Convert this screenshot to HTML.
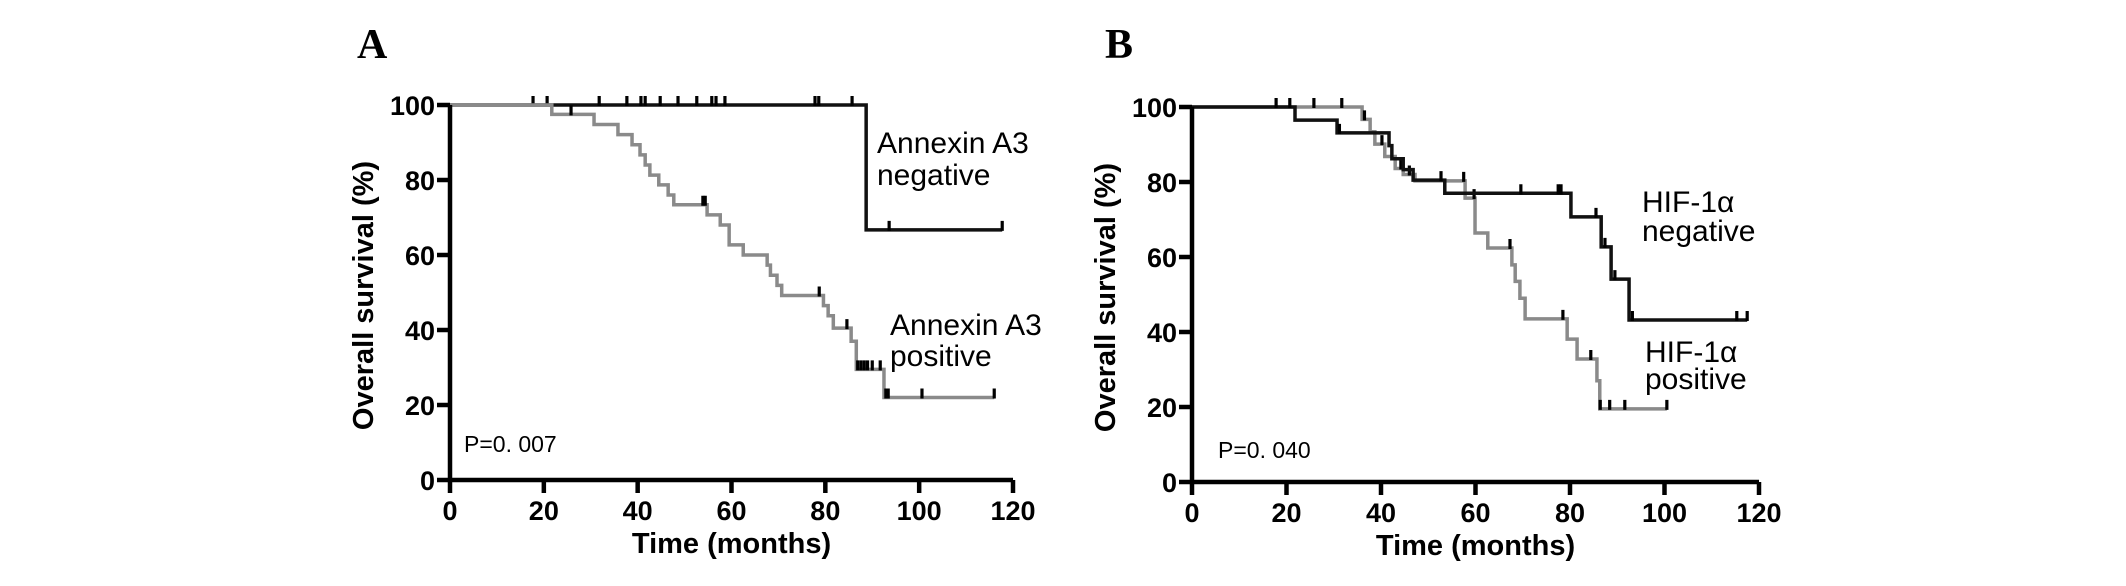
<!DOCTYPE html>
<html><head><meta charset="utf-8"><style>
html,body{margin:0;padding:0;background:#fff;}
svg{display:block;}
text{font-family:"Liberation Sans",Arial,sans-serif;}
.tick{font-weight:bold;font-size:27px;}
.title{font-weight:bold;font-size:29px;}
.ann{font-size:30px;}
.pv{font-size:23px;}
.panel{font-family:"Liberation Serif",serif;font-weight:bold;font-size:42px;}
</style></head><body>
<svg id="fig" width="2126" height="586" viewBox="0 0 2126 586" xmlns="http://www.w3.org/2000/svg">
<rect width="2126" height="586" fill="#fff"/>
</svg>
<script>
// Panel A data
const xTicks = [0,20,40,60,80,100,120];
const yTicks = [0,20,40,60,80,100];
const aNegDropTimes = [88.7];
const aNegDropLevels = [66.7];
const aNegEnd = 117.7;
const aNegCensor = [17.7,20.7,31.8,37.7,40.7,41.6,44.8,48.6,52.6,55.8,56.7,58.6,77.8,78.6,85.7,93.6,117.7];
const aPosDropTimes = [21.7,30.7,35.8,38.8,40.5,41.6,42.6,44.5,46.5,47.7,54.8,57.6,59.5,62.5,67.6,68.3,69.7,70.7,79.6,80.6,81.7,85.5,86.6,92.5];
const aPosDropLevels = [97.5,94.8,92.1,89.4,86.7,84.0,81.3,78.7,76.0,73.4,70.7,68.0,62.7,60.0,57.3,54.6,51.9,49.2,46.5,43.8,40.5,37.0,29.5,22.0];
const aPosEnd = 116;
const aPosCensor = [25.8,53.9,54.4,78.7,84.6,86.9,87.6,88.3,89.0,90.0,91.7,92.9,93.4,100.6,116];
// Panel B data
const bNegDropTimes = [21.8,30.7,41.7,42.3,44.7,46.8,53.5,80.2,86.6,88.7,92.5];
const bNegDropLevels = [96.5,93.1,89.7,86.2,83.3,80.5,77.0,70.7,62.7,54.1,43.2];
const bNegEnd = 117.5;
const bNegCensor = [17.8,20.7,31.2,52.7,69.6,77.5,78.1,85.5,87.4,89.5,93.2,115.3,117.5];
const bPosDropTimes = [36.0,37.7,38.7,40.8,43.0,44.7,47.2,57.8,59.9,62.6,67.7,68.4,69.4,70.5,79.4,81.5,85.7,86.3];
const bPosDropLevels = [96.7,93.4,90.1,86.8,83.6,82.0,80.3,75.7,66.4,62.4,57.9,53.5,49.0,43.5,38.1,32.8,27.0,19.5];
const bPosEnd = 100.5;
const bPosCensor = [25.8,31.7,36.5,40.2,44.2,46.0,57.5,59.7,67.3,78.5,84.4,86.4,88.4,91.6,100.5];

const NS='http://www.w3.org/2000/svg';
const svg=document.getElementById('fig');
function mk(tag,attrs,parent){const e=document.createElementNS(NS,tag);for(const k in attrs)e.setAttribute(k,attrs[k]);(parent||svg).appendChild(e);return e;}

function panel(cfg){
  const g=mk('g',{});
  
  
  const X=t=>cfg.x0+(t/120)*(cfg.x1-cfg.x0);
  const Y=s=>cfg.y0-(s/100)*(cfg.y0-cfg.y100);
  const ax=mk('path',{d:`M${X(0)},${Y(100)}V${Y(0)}H${X(120)}`,stroke:'#000','stroke-width':4.5,fill:'none'},g);
  
  
  xTicks.forEach(v=>{
    mk('line',{x1:X(v),x2:X(v),y1:Y(0),y2:Y(0)+13,stroke:'#000','stroke-width':4.5},g);
    const t=mk('text',{x:X(v),y:Y(0)+40,'text-anchor':'middle',class:'tick'},g);t.textContent=v;
    
    
  });
  yTicks.forEach(v=>{
    mk('line',{x1:X(0)-13,x2:X(0),y1:Y(v),y2:Y(v),stroke:'#000','stroke-width':4.5},g);
    const t=mk('text',{x:X(0)-15,y:Y(v)+10,'text-anchor':'end',class:'tick'},g);t.textContent=v;
    
    
  });
  const xt=mk('text',{x:(X(0)+X(120))/2,y:Y(0)+73,'text-anchor':'middle',class:'title'},g);xt.textContent='Time (months)';
  
  
  const cy=(Y(0)+Y(100))/2+3, cx=X(0)-77;
  const yt=mk('text',{x:cx,y:cy,'text-anchor':'middle',class:'title',transform:`rotate(-90 ${cx} ${cy})`,'font-size':'30.5px'},g);yt.textContent='Overall survival (%)';
  
  
  cfg.series.forEach(s=>{
    let d=`M${X(0)},${Y(100)}`;
    s.times.forEach((t,i)=>{d+=`H${X(t)}V${Y(s.levels[i])}`;});
    d+=`H${X(s.end)}`;
    const p=mk('path',{d:d,stroke:s.color,'stroke-width':3.5,fill:'none'},g);
    
    
    s.censor.forEach(c=>{
      let l=100;s.times.forEach((t,i)=>{if(t<=c)l=s.levels[i];});
      const m=mk('line',{x1:X(c),x2:X(c),y1:Y(l)-9,y2:Y(l)+1,stroke:'#000','stroke-width':3.2},g);
      
      
    });
  });
  g.appendChild(ax);
  return g;
}

panel({name:'panel-a-chart',x0:450,x1:1013,y0:480,y100:105,series:[
  {name:'annexin-negative',times:aNegDropTimes,levels:aNegDropLevels,end:aNegEnd,censor:aNegCensor,color:'#111'},
  {name:'annexin-positive',times:aPosDropTimes,levels:aPosDropLevels,end:aPosEnd,censor:aPosCensor,color:'#8a8a8a'}]});
panel({name:'panel-b-chart',x0:1192,x1:1759,y0:482,y100:107,series:[
  {name:'hif-positive',times:bPosDropTimes,levels:bPosDropLevels,end:bPosEnd,censor:bPosCensor,color:'#8a8a8a'},
  {name:'hif-negative',times:bNegDropTimes,levels:bNegDropLevels,end:bNegEnd,censor:bNegCensor,color:'#111'}]});

function txt(x,y,cls,str,name){const t=mk('text',{x:x,y:y,class:cls});t.textContent=str;
  
  return t;}
txt(357,58,'panel','A','panel-label-a');
txt(1105,58,'panel','B','panel-label-b');
txt(877,153,'ann','Annexin A3','label-annexin-negative-1');
txt(877,185,'ann','negative','label-annexin-negative-2');
txt(890,335,'ann','Annexin A3','label-annexin-positive-1');
txt(890,366,'ann','positive','label-annexin-positive-2');
txt(1642,212,'ann','HIF-1α','label-hif-negative-1');
txt(1642,241,'ann','negative','label-hif-negative-2');
txt(1645,362,'ann','HIF-1α','label-hif-positive-1');
txt(1645,389,'ann','positive','label-hif-positive-2');
txt(464,452,'pv','P=0. 007','p-value-a');
txt(1218,458,'pv','P=0. 040','p-value-b');
</script>
</body></html>
